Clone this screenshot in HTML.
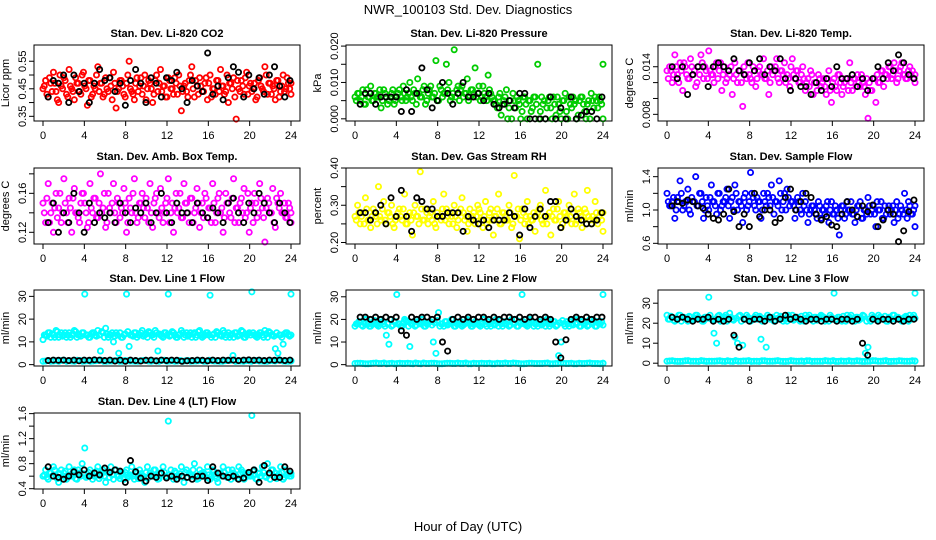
<!DOCTYPE html>
<html><head><meta charset="utf-8"><style>
body{margin:0;background:#fff}
svg{display:block;font-family:"Liberation Sans",sans-serif}
</style></head><body>
<svg id="chart" width="936" height="540" viewBox="0 0 936 540">
<rect width="936" height="540" fill="#fff"/>
<text x="468" y="14" text-anchor="middle" font-size="13">NWR_100103 Std. Dev. Diagnostics</text>
<text x="468" y="531" text-anchor="middle" font-size="13">Hour of Day (UTC)</text>
</svg>
<script>
const xTicks = [0,4,8,12,16,20,24];
const titles = ["Stan. Dev. Li-820 CO2","Stan. Dev. Li-820 Pressure","Stan. Dev. Li-820 Temp.","Stan. Dev. Amb. Box Temp.","Stan. Dev. Gas Stream RH","Stan. Dev. Sample Flow","Stan. Dev. Line 1 Flow","Stan. Dev. Line 2 Flow","Stan. Dev. Line 3 Flow","Stan. Dev. Line 4 (LT) Flow"];
const yTitles = ["Licor ppm","kPa","degrees C","degrees C","percent","ml/min","ml/min","ml/min","ml/min","ml/min"];
const domains = [[0.333,0.609],[-0.0006,0.0203],[0.00716,0.01674],[0.108,0.186],[0.196,0.40],[0.592,1.504],[-0.6,32.8],[-0.6,33],[-1.4,36.6],[0.395,1.61]];
const yTicks = [[0.35,0.40,0.45,0.50,0.55],[0,0.005,0.010,0.015,0.020],[0.008,0.010,0.012,0.014],[0.12,0.14,0.16,0.18],[0.20,0.25,0.30,0.35,0.40],[0.6,0.8,1.0,1.2,1.4],[0,10,20,30],[0,10,20,30],[0,10,20,30],[0.4,0.6,0.8,1.0,1.2,1.4,1.6]];
const yTickLabels = [["0.35","","0.45","","0.55"],["0.000","","0.010","","0.020"],["0.008","","","0.014"],["0.12","","0.16",""],["0.20","","0.30","","0.40"],["0.6","","1.0","","1.4"],["0","10","20","30"],["0","10","20","30"],["0","10","20","30"],["0.4","","0.8","","1.2","","1.6"]];
const colors = ["#ff0000","#00cc00","#ff00ff","#ff00ff","#ffff00","#0000ff","#00ffff","#00ffff","#00ffff","#00ffff"];

const co2Color = [.45,.48,.42,.47,.51,.44,.40,.46,.49,.43,.52,.45,.41,.47,.44,.50,.46,.39,.48,.43,.45,.53,.47,.42,.49,.44,.46,.51,.38,.45,.48,.43,.47,.55,.44,.41,.49,.46,.43,.50,.45,.47,.40,.48,.44,.52,.46,.42,.49,.45,.43,.47,.50,.37,.46,.44,.48,.53,.42,.46,.49,.44,.47,.41,.50,.45,.43,.48,.52,.46,.44,.40,.47,.49,.34,.45,.48,.43,.51,.46,.44,.47,.42,.49,.45,.53,.43,.47,.46,.41,.48,.44,.50,.45,.47,.43];
const co2ColorB = [.46,.43,.49,.44,.47,.41,.50,.45,.48,.42,.46,.44,.49,.47,.43,.51,.45,.48,.42,.46,.50,.44,.47,.43,.45,.49,.41,.47,.44,.48,.46,.42,.50,.45,.43,.47,.44,.49,.46,.41,.48,.45,.43,.50,.47,.44,.46,.42,.48,.45,.49,.43,.46,.44,.47,.42,.50,.45,.48,.43,.46,.44,.49,.47,.42,.45,.48,.44,.46,.43,.50,.47,.45,.42,.48,.44,.46,.49,.43,.47,.45,.41,.48,.46,.44,.50,.47,.43,.45,.48,.42,.46,.44,.49,.45,.47];
const co2Black = [.42,.48,.47,.50,.40,.50,.44,.47,.40,.47,.52,.48,.49,.44,.47,.39,.48,.52,.47,.40,.49,.47,.42,.49,.48,.51,.45,.40,.48,.46,.44,.58,.43,.46,.41,.49,.53,.51,.42,.50,.45,.49,.43,.50,.53,.46,.42,.48];
const presColor = [.006,.007,.005,.008,.004,.006,.009,.005,.007,.006,.003,.008,.006,.005,.007,.004,.006,.008,.005,.007,.006,.010,.005,.007,.011,.006,.008,.004,.007,.009,.006,.016,.005,.008,.007,.015,.010,.006,.019,.008,.005,.009,.007,.011,.006,.008,.014,.007,.005,.009,.006,.012,.007,.005,.004,.006,.001,.005,.008,.003,.000,.005,.006,.004,.002,.006,.000,.005,.003,.006,.015,.002,.004,.000,.005,.003,.006,.001,.004,.000,.005,.002,.006,.003,.004,.000,.005,.006,.002,.004,.000,.005,.006,.003,.005,.015];
const presColorB = [.005,.007,.006,.004,.008,.006,.005,.007,.006,.008,.005,.007,.004,.006,.008,.005,.007,.006,.009,.005,.007,.006,.008,.004,.007,.006,.009,.005,.008,.006,.007,.005,.009,.006,.007,.008,.005,.007,.006,.009,.008,.006,.007,.005,.008,.007,.006,.009,.006,.007,.005,.008,.006,.005,.003,.007,.004,.006,.000,.005,.007,.003,.005,.000,.006,.004,.005,.002,.006,.004,.000,.006,.005,.003,.006,.000,.004,.006,.002,.005,.007,.000,.004,.006,.005,.001,.006,.004,.000,.005,.007,.003,.005,.006,.004,.000];
const presBlack = [.004,.007,.007,.004,.006,.006,.006,.006,.002,.008,.002,.007,.014,.008,.003,.005,.010,.007,.004,.007,.010,.006,.006,.007,.005,.007,.004,.003,.004,.005,.003,.007,.007,.000,.000,.000,.000,.006,.000,.003,.000,.006,.000,.001,.002,.002,.000,.006];
const tempColor = [.0135,.014,.012,.0155,.013,.0145,.011,.014,.0125,.015,.013,.0115,.014,.0155,.0125,.0135,.016,.013,.012,.0145,.0135,.011,.014,.0125,.013,.0105,.0145,.012,.0135,.009,.013,.0145,.0125,.014,.0115,.0135,.013,.015,.0125,.0105,.014,.0135,.015,.012,.0135,.0145,.013,.0115,.015,.0125,.0135,.012,.014,.011,.0125,.0135,.0105,.012,.013,.0115,.0125,.0105,.0135,.0095,.0125,.011,.013,.0105,.012,.0125,.0145,.011,.0125,.013,.0115,.012,.0105,.0075,.011,.0125,.0095,.012,.0135,.0115,.013,.014,.0125,.0145,.012,.0135,.0145,.013,.0125,.014,.0135,.012];
const tempColorB = [.0125,.0135,.013,.014,.012,.0135,.0145,.013,.0125,.014,.0135,.012,.013,.0145,.014,.0125,.0135,.013,.014,.0125,.0145,.013,.012,.0135,.014,.0125,.013,.0135,.012,.014,.0125,.013,.012,.0135,.0125,.014,.013,.0125,.0135,.012,.013,.014,.0125,.0135,.013,.012,.0125,.014,.013,.0135,.012,.013,.0125,.012,.0115,.013,.012,.011,.0125,.012,.0115,.0125,.011,.012,.0115,.013,.012,.0115,.0125,.011,.012,.0125,.0115,.012,.013,.0115,.0125,.012,.011,.0125,.013,.012,.0135,.013,.0125,.014,.013,.0135,.0125,.014,.013,.0125,.0135,.013,.0125,.013];
const tempBlack = [.014,.0125,.014,.0105,.013,.014,.014,.0115,.014,.0145,.014,.0135,.015,.0135,.013,.0145,.0135,.015,.013,.014,.0135,.015,.0125,.011,.0125,.0115,.0115,.0105,.012,.011,.0125,.0115,.014,.0125,.0125,.013,.0115,.0125,.011,.0125,.014,.0125,.0145,.0135,.0155,.0145,.013,.0125];
const ambColor = [.15,.13,.17,.14,.12,.16,.145,.13,.175,.14,.155,.12,.165,.14,.13,.16,.15,.125,.17,.14,.155,.135,.18,.145,.125,.16,.14,.17,.13,.15,.145,.165,.12,.155,.14,.175,.13,.15,.16,.135,.145,.17,.125,.155,.14,.165,.13,.15,.175,.14,.12,.16,.145,.135,.17,.15,.13,.155,.14,.165,.125,.15,.16,.135,.145,.17,.13,.155,.14,.12,.16,.15,.135,.175,.145,.13,.155,.165,.14,.12,.15,.16,.135,.17,.145,.11,.155,.14,.165,.125,.15,.16,.14,.135,.15,.13];
const ambColorB = [.14,.155,.13,.15,.145,.135,.16,.14,.15,.13,.145,.155,.14,.135,.15,.16,.14,.13,.145,.155,.135,.15,.14,.16,.13,.145,.15,.14,.155,.135,.14,.15,.13,.145,.16,.14,.135,.15,.145,.155,.13,.14,.15,.16,.135,.145,.14,.155,.13,.15,.145,.14,.16,.135,.15,.14,.155,.13,.145,.15,.14,.135,.155,.145,.13,.15,.14,.16,.145,.135,.15,.14,.155,.13,.145,.15,.14,.135,.16,.145,.13,.15,.14,.155,.135,.145,.15,.14,.13,.155,.145,.14,.15,.135,.145,.14];
const ambBlack = [.13,.15,.12,.14,.13,.16,.14,.12,.15,.13,.14,.135,.14,.13,.15,.14,.13,.145,.14,.15,.13,.14,.16,.14,.13,.15,.14,.14,.13,.15,.14,.135,.145,.14,.13,.15,.155,.14,.13,.15,.14,.16,.15,.14,.13,.15,.14,.13];
const rhColor = [.27,.30,.25,.28,.32,.26,.24,.29,.27,.35,.26,.31,.25,.28,.30,.24,.27,.29,.26,.33,.25,.28,.22,.30,.27,.39,.26,.29,.25,.28,.31,.24,.27,.26,.33,.29,.25,.27,.30,.24,.28,.32,.26,.23,.29,.27,.25,.30,.28,.24,.31,.26,.29,.22,.27,.33,.25,.28,.26,.30,.24,.38,.27,.21,.29,.25,.31,.27,.26,.23,.28,.30,.25,.34,.27,.22,.29,.26,.31,.24,.28,.27,.30,.25,.33,.26,.28,.24,.29,.34,.26,.27,.31,.25,.28,.23];
const rhColorB = [.26,.28,.27,.25,.29,.26,.27,.28,.25,.27,.29,.26,.28,.27,.25,.26,.28,.27,.29,.25,.27,.26,.28,.27,.25,.29,.26,.28,.27,.26,.25,.28,.27,.29,.26,.27,.28,.25,.27,.26,.29,.28,.27,.25,.26,.28,.27,.29,.26,.27,.25,.28,.26,.27,.29,.25,.28,.27,.26,.28,.25,.27,.29,.26,.28,.27,.25,.26,.28,.27,.29,.26,.27,.25,.28,.27,.26,.29,.27,.25,.28,.26,.27,.28,.25,.29,.27,.26,.28,.27,.25,.26,.28,.27,.26,.28];
const rhBlack = [.28,.28,.26,.28,.30,.25,.32,.27,.34,.27,.23,.32,.31,.29,.29,.27,.27,.28,.28,.28,.23,.27,.26,.25,.26,.24,.26,.26,.26,.28,.27,.22,.29,.24,.27,.29,.27,.31,.31,.24,.26,.29,.27,.26,.25,.25,.26,.28];
const sfColor = [1.2,1.05,1.1,0.9,1.15,1.35,1.0,1.1,1.25,0.95,1.1,1.4,1.05,1.2,0.9,1.15,1.0,1.3,1.1,0.95,1.2,1.05,1.1,1.25,0.9,1.15,1.3,1.0,1.1,0.85,1.2,1.05,1.45,1.15,1.0,1.1,0.9,1.2,1.05,1.15,1.3,0.95,1.1,1.35,1.0,1.2,1.25,1.05,1.1,0.9,1.15,1.0,1.2,1.1,0.85,1.0,1.05,0.95,1.1,0.9,1.0,1.05,0.85,1.1,0.95,1.0,0.7,1.05,0.9,1.1,1.0,0.95,0.85,1.05,1.1,0.9,1.0,1.15,0.95,1.05,0.8,1.0,1.1,0.9,0.95,1.05,1.0,0.85,1.1,0.95,1.0,1.2,0.9,1.05,0.95,0.8];
const sfColorB = [1.1,1.05,1.15,1.0,1.1,1.2,1.05,1.1,1.0,1.15,1.1,1.05,1.2,1.1,1.0,1.05,1.15,1.1,1.05,1.2,1.0,1.1,1.15,1.05,1.1,1.0,1.2,1.1,1.05,1.15,1.0,1.1,1.2,1.05,1.15,1.1,1.0,1.1,1.2,1.05,1.15,1.1,1.05,1.2,1.1,1.0,1.15,1.1,1.05,1.0,1.1,0.95,1.05,1.0,0.95,1.05,1.0,0.9,1.05,1.0,0.95,1.1,1.0,0.95,1.05,0.9,1.0,1.05,0.95,1.0,1.1,0.95,1.0,1.05,0.9,1.0,0.95,1.05,1.0,0.95,1.1,1.0,0.9,1.05,1.0,0.95,1.05,1.0,0.9,1.05,0.95,1.0,1.1,0.95,1.0,1.05];
const sfBlack = [1.05,1.1,1.08,1.12,1.1,1.05,1.02,0.95,0.9,0.88,0.95,1.25,0.98,0.8,0.95,0.8,1.2,0.92,1.0,1.0,0.85,0.9,1.15,1.25,1.0,1.1,1.2,1.15,0.95,0.88,0.92,0.82,0.8,0.95,1.1,1.0,0.92,1.05,0.98,1.06,0.8,0.88,1.0,0.95,0.62,0.75,0.98,1.12];
const l1Color = [11,13,14,12,13,15,12,14,13,12,14,13,15,12,13,14,31,13,12,14,13,15,6,14,16,12,13,10,14,5,12,13,31,8,13,14,12,13,15,13,12,14,13,15,6,13,12,14,31,13,14,12,13,15,12,14,13,12,14,13,15,12,13,14,30.5,13,12,14,13,15,12,14,13,12,14,13,15,12,13,14,32,13,12,14,13,15,12,14,13,7,5,13,9,14,13,31];
const l1ColorB = [13,12.5,14,13.5,12,14.5,13,12.5,14,13,12,13.5,14.5,13,12.5,14,13,12,13.5,14,12.5,13,14.5,12,13.5,13,14,12.5,13,14,12,13.5,14.5,13,12.5,14,13,14,12.5,13.5,14.5,13,12,14,13.5,12.5,14,13,12.5,14.5,13,12,13.5,14,13,12.5,14,13.5,12,14.5,13,12.5,14,13,12,13.5,14.5,13,12.5,14,13,12,13.5,14,12.5,13,14.5,12,13.5,13,14,12.5,13,14,12,13.5,14.5,13,12.5,14,13,12,13.5,14,12.5,13];
const l1Low = [1.5,1.8,1.6,1.5,1.9,1.7,1.5,1.8,1.6,1.5,1.7,1.9,1.5,1.6,1.8,1.5,1.7,1.6,1.5,1.8,1.6,1.7,1.5,1.9,1.6,1.5,1.8,1.7,1.5,1.6,1.8,1.5,1.7,1.6,1.5,1.8,4,1.6,1.5,1.7,1.8,1.6,1.5,1.7,1.6,1.9,1.5,1.6];
const l1LowB = [1.6,1.5,1.7,1.8,1.5,1.6,1.9,1.5,1.7,1.6,1.8,1.5,1.6,1.7,1.5,1.8,1.6,1.5,1.7,1.9,1.5,1.6,1.8,1.5,1.7,1.6,1.5,1.8,1.6,1.7,1.5,1.9,1.6,1.5,1.7,1.8,1.5,1.6,1.7,1.5,1.8,1.6,1.5,1.7,1.9,1.6,1.5,1.7];
const l1Black = [1.8,2,1.9,2,1.8,2,1.7,2,1.9,2.1,2,1.8,2,1.6,2,1.5,2,1.8,1.6,1.9,2,1.7,2,1.8,2,1.9,1.5,1.7,1.8,2,1.9,1.7,2,1.8,2,1.9,2,1.8,2,2.1,1.9,2,1.8,2,1.9,2,1.8,2];
const l2Color = [17,18,19,17,20,18,17,19,18,17,20,18,13,9,17,19,31,18,17,20,19,8,18,17,19,18,20,17,18,19,10,5,23,18,17,19,18,20,17,18,19,17,18,20,18,17,19,18,17,20,18,19,17,18,20,17,18,19,18,17,20,18,17,19,31,18,17,20,19,18,17,19,18,17,20,18,19,17,4,10,18,19,17,18,20,18,17,19,18,17,20,18,17,19,18,31];
const l2ColorB = [18,19,17.5,18.5,20,17,18,19.5,17.5,18.5,19,17,18,20,17.5,19,18,17,18.5,19.5,17,18,19,17.5,18.5,20,17,18,19,17.5,18.5,19.5,17,18,19,17.5,18.5,20,17,18,19,17.5,18.5,19.5,17,18,19,17.5,18.5,20,17,18,19,17.5,18.5,19.5,17,18,19,17.5,18.5,20,17,18,19,17.5,18.5,19.5,17,18,19,17.5,18.5,20,17,18,19,17.5,18.5,19.5,17,18,19,17.5,18.5,20,17,18,19,17.5,18.5,19.5,17,18,19,17.5];
const l2Low = [0.5,0.6,0.4,0.5,0.7,0.5,0.4,0.6,0.5,0.5,0.6,0.4,0.5,0.7,0.5,0.6,0.4,0.5,0.6,0.5,0.5,0.7,0.4,0.5,0.6,0.5,0.4,0.6,0.5,0.5,0.7,0.5,0.4,0.6,0.5,0.5,0.6,0.4,0.5,0.7,0.5,0.6,0.4,0.5,0.6,0.5,0.5,0.6];
const l2LowB = [0.6,0.5,0.4,0.6,0.5,0.7,0.5,0.4,0.6,0.5,0.5,0.7,0.4,0.5,0.6,0.5,0.4,0.6,0.5,0.7,0.5,0.4,0.6,0.5,0.5,0.6,0.4,0.5,0.7,0.5,0.6,0.4,0.5,0.6,0.5,0.5,0.7,0.4,0.5,0.6,0.5,0.4,0.6,0.5,0.7,0.5,0.4,0.6];
const l2Black = [21,21,20,21,20,21,20,21,15,13,21,20,21,21,20,21,10,6,20,21,20,21,20,21,21,20,21,20,21,21,20,21,20,21,21,20,21,20,10,3,11,20,21,20,21,20,21,21];
const l3Color = [24,22,23,21,22,24,23,22,21,23,22,24,23,22,21,23,33,22,15,10,24,22,23,21,25,22,13,10,24,9,22,23,21,22,24,23,12,22,8,23,22,21,24,22,23,22,21,23,24,22,23,21,22,24,23,22,21,23,22,24,23,22,21,23,35,22,23,21,22,24,23,22,21,23,22,24,5,8,21,23,22,24,23,22,21,23,22,24,23,22,21,23,22,24,23,35];
const l3ColorB = [22,23.5,21.5,22.5,24,21,23,22,23.5,21.5,22.5,24,22,21,23,22.5,24,21.5,22,23.5,21,22.5,24,22,23,21.5,22.5,23.5,21,22,24,22.5,21.5,23,22,23.5,21,22.5,24,22,23,21.5,22.5,23.5,21,22,24,22.5,21.5,23,22,23.5,21,22.5,24,22,23,21.5,22.5,23.5,21,22,24,22.5,21.5,23,22,23.5,21,22.5,24,22,23,21.5,22.5,23.5,21,22,24,22.5,21.5,23,22,23.5,21,22.5,24,22,23,21.5,22.5,23.5,21,22,24,22.5];
const l3Low = [1,1.2,0.9,1,1.3,1,0.9,1.1,1,1,1.2,0.9,1,1.3,1,1.1,0.9,1,1.2,1,1,1.3,0.9,1,1.1,1,0.9,1.2,1,1,1.3,1,0.9,1.1,1,1,1.2,0.9,1,1.3,1,1.1,0.9,1,1.2,1,1,1.1];
const l3LowB = [1.1,1,0.9,1.2,1,1,1.3,0.9,1,1.1,1,1.2,0.9,1,1.1,1.3,1,0.9,1.2,1,1.1,1,0.9,1.3,1,1.1,1.2,0.9,1,1,1.1,1.3,0.9,1,1.2,1,1.1,0.9,1,1.2,1,1.3,0.9,1,1.1,1,1.2,1];
const l3Black = [23,22,23,22,21,22,22,23,21,22,21,22,14,8,22,21,22,22,21,23,21,22,24,22,23,22,21,22,22,21,22,22,21,22,22,21,22,10,4,22,21,22,22,21,22,21,22,22];
const l4Color = [.6,.7,.55,.65,.75,.6,.5,.7,.65,.55,.75,.6,.7,.55,.65,.8,1.05,.6,.7,.55,.65,.75,.6,.7,.5,.65,.75,.55,.7,.6,.65,.55,.7,.6,.75,.55,.65,.7,.6,.5,.75,.65,.6,.7,.55,.65,.75,.6,1.48,.7,.55,.65,.6,.75,.5,.7,.65,.6,.8,.55,.7,.65,.6,.75,.55,.7,.6,.5,.65,.75,.6,.7,.55,.65,.6,.75,.7,.55,.65,.6,1.57,.7,.55,.65,.75,.6,.8,.55,.7,.65,.6,.75,.55,.7,.65,.6];
const l4ColorB = [.62,.58,.66,.6,.7,.56,.64,.6,.68,.58,.62,.66,.56,.7,.6,.64,.58,.66,.62,.6,.68,.56,.64,.6,.66,.58,.62,.7,.6,.56,.64,.66,.58,.62,.6,.68,.56,.64,.6,.66,.58,.62,.7,.6,.56,.64,.66,.58,.62,.6,.68,.56,.64,.6,.66,.58,.62,.7,.6,.56,.64,.66,.58,.62,.6,.68,.56,.64,.6,.66,.58,.62,.7,.6,.56,.64,.66,.58,.62,.6,.68,.56,.64,.6,.66,.58,.62,.7,.6,.56,.64,.66,.58,.62,.6,.64];
const l4Black = [.75,.6,.58,.55,.6,.67,.62,.7,.6,.65,.62,.73,.66,.7,.68,.5,.85,.67,.57,.52,.6,.58,.65,.57,.6,.55,.6,.58,.55,.6,.6,.53,.75,.65,.6,.58,.6,.55,.57,.66,.7,.5,.77,.65,.58,.58,.75,.68];

const colorSeries = [[co2Color,co2ColorB],[presColor,presColorB],[tempColor,tempColorB],[ambColor,ambColorB],[rhColor,rhColorB],[sfColor,sfColorB],[l1Color,l1ColorB,l1Low,l1LowB],[l2Color,l2ColorB,l2Low,l2LowB],[l3Color,l3ColorB,l3Low,l3LowB],[l4Color,l4ColorB]];
const blackSeries = [co2Black,presBlack,tempBlack,ambBlack,rhBlack,sfBlack,l1Black,l2Black,l3Black,l4Black];

const NS = "http://www.w3.org/2000/svg";
const svg = document.getElementById('chart');
function mk(tag, attrs, parent){const e=document.createElementNS(NS,tag);for(const k in attrs)e.setAttribute(k,attrs[k]);parent.appendChild(e);return e;}
const colLeft=[34,346,658], rowTop=[45,168,290,413], W=266, H=76;

for(let p=0;p<10;p++){
  const L=colLeft[p%3], T=rowTop[Math.floor(p/3)], B=T+H;
  const [lo,hi]=domains[p];
  const xs=v=>L+9+v/24*248;
  const ys=v=>B-(v-lo)/(hi-lo)*H;
  const g=mk('g',{},svg);
  
  
  const t=mk('text',{x:L+W/2,y:T-8,'text-anchor':'middle','font-size':11,'font-weight':'bold'},g);
  t.textContent=titles[p];
  
  
  const yt=mk('text',{x:0,y:0,'text-anchor':'middle','font-size':11,transform:`translate(${L-25},${T+H/2}) rotate(-90)`},g);
  yt.textContent=yTitles[p];
  
  
  xTicks.forEach(v=>{
    mk('line',{x1:xs(v),x2:xs(v),y1:B,y2:B+5,stroke:'#000','stroke-width':1},g);
    const lb=mk('text',{x:xs(v),y:B+18,'text-anchor':'middle','font-size':11},g);
    lb.textContent=v;
    
    
  });
  yTicks[p].forEach((v,i)=>{
    mk('line',{x1:L-5,x2:L,y1:ys(v),y2:ys(v),stroke:'#000','stroke-width':1},g);
    if(yTickLabels[p][i]){
      const lb=mk('text',{x:0,y:0,'text-anchor':'middle','font-size':11,transform:`translate(${L-8},${ys(v)}) rotate(-90)`},g);
      lb.textContent=yTickLabels[p][i];
      
      
    }
  });
  colorSeries[p].forEach((arr,k)=>{
    const off = (k%2===1) ? 0.5*24/arr.length : 0;
    arr.forEach((v,i)=>{
      const c=mk('circle',{cx:xs(Math.min(24,i*24/(arr.length-1)+off)),cy:ys(v),r:2.6,fill:'none',stroke:colors[p],'stroke-width':1.8},g);
      
      
    });
  });
  const bk=blackSeries[p];
  bk.forEach((v,i)=>{
    const c=mk('circle',{cx:xs(0.5+i*23.4/(bk.length-1)),cy:ys(v),r:2.6,fill:'none',stroke:'#000','stroke-width':1.8},g);
    
    
  });
  const box=mk('rect',{x:L,y:T,width:W,height:H,fill:'none',stroke:'#000','stroke-width':1},g);
  
  
}
</script>
</body></html>
